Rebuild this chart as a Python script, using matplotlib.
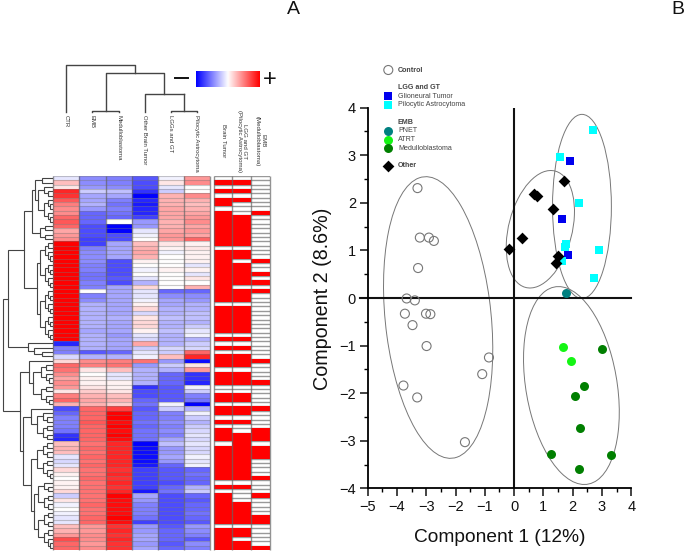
import numpy as np
import matplotlib as mpl
mpl.use('Agg')
import matplotlib.pyplot as plt
from matplotlib.colors import LinearSegmentedColormap
from matplotlib.patches import Ellipse

plt.rcParams['font.family'] = ['Liberation Sans', 'DejaVu Sans']

W, H = 685, 555

heat_labels = ['CTR', 'EMB', 'Medulloblastoma', 'Other Brain Tumor', 'LGGs and GT', 'Pilocytic Astrocytoma']
ctr = [-.1,.25,.1,.85,.8,.65,.5,.45,.45,.6,
       .65,.6,.35,.4,.45,1,1,1,1,1,
       1,1,1,1,1,1,1,1,1,1,
       1,1,1,1,1,1,1,1,-.85,-.5,
       -.5,-.15,.15,.6,.55,.45,.35,.45,.4,.1,
       .5,.6,.3,-.7,-.6,-.5,-.5,-.5,-.55,-.8,
       -.85,.25,.3,.25,-.1,-.15,-.1,.15,.05,0,
       .05,.05,.15,-.2,.1,-.05,0,-.05,-.1,-.1,
       .25,.3,.4,.7,.6,.6]
emb = [-.45,-.45,-.4,-.2,-.35,-.35,-.3,-.4,-.6,-.6,
       -.6,-.7,-.7,-.7,-.75,-.75,-.5,-.45,-.45,-.45,
       -.5,-.5,-.55,-.55,-.5,-.5,0,-.5,-.45,-.3,
       -.3,-.3,-.3,-.3,-.3,-.35,-.3,-.3,-.3,-.3,
       -.65,-.3,.45,.5,.1,0,.05,.05,.1,.2,
       .3,.35,.3,.6,.6,.6,.65,.6,.6,.6,
       .6,.55,.6,.55,.6,.55,.6,.55,.55,.6,
       .55,.55,.55,.55,.55,.6,.55,.55,.6,.6,
       .4,.4,.45,.45,.4,.45]
med = [-.5,-.5,-.45,-.25,-.35,-.5,-.55,-.5,-.55,-.6,
       0,-1,-1,-.7,-.7,-.35,-.35,-.35,-.35,-.7,
       -.7,-.7,-.7,-.65,-.7,-.35,-.35,-.35,-.35,-.35,
       -.35,-.35,-.3,-.35,-.35,-.35,-.4,-.35,-.35,-.35,
       -.6,-.3,.5,.55,.25,-.1,-.1,.05,.05,.1,
       .25,.3,.2,.75,1,1,.95,1,.95,1,
       .95,.85,.85,.85,.85,.85,.85,.8,.85,.8,
       .85,.8,.85,1,.95,.95,.95,.95,1,.95,
       .8,.85,.8,.85,.8,.8]
oth = [-.65,-.7,-.7,-.8,-1,-.85,-.9,-.85,-.85,-.75,
       -.4,-.4,-.1,-.05,0,.25,.3,.35,.3,.05,
       0,-.05,0,-.1,-.3,.15,-.1,-.1,-.05,.05,
       .15,-.15,.1,.15,.15,.05,-.1,-.15,.35,-.2,
       -.1,-.05,.55,-.4,-.3,-.3,-.3,-.3,-.8,-.7,
       -.7,-.6,-.55,-.65,-.6,-.6,-.55,-.6,-.55,-.55,
       -.55,-1,-.95,-.95,-.95,-.95,-.9,-.75,-.75,-.75,
       -.75,-.75,-.9,-.35,-.4,-.5,-.5,-.5,-.55,-.75,
       -.4,-.4,-.35,-.35,-.4,-.35]
lgg = [-.05,.1,-.1,-.2,.3,.3,.3,.35,.35,.35,
       .3,.3,.35,.4,.4,.1,.05,-.05,0,0,
       0,.05,0,0,0,0,-.6,-.45,-.35,-.35,
       -.3,-.3,-.25,-.3,-.3,-.25,-.3,-.3,-.3,-.15,
       -.2,.25,-.4,-.2,-.3,-.6,-.6,-.6,-.65,-.65,
       -.65,-.65,-.05,-.2,-.5,-.5,-.45,-.5,-.45,-.5,
       -.35,-.25,-.4,-.4,-.35,-.4,-.6,-.65,-.65,-.65,
       -.7,-.6,-.55,-.7,-.7,-.7,-.7,-.7,-.7,-.7,
       -.65,-.6,-.6,-.6,-.65,-.6]
pil = [.4,.45,0,0,.45,.3,.25,.3,.35,.4,
       .45,.35,.4,.35,.6,.05,.1,.05,.05,.05,
       -.1,.05,-.1,.1,0,.3,-.6,-.45,-.4,-.3,
       -.3,-.25,-.25,-.3,-.2,-.1,-.05,-.3,-.2,-.15,
       .6,.85,-.95,.1,.4,-.8,-.8,-.85,-.05,-.2,
       -.5,-.55,-1,-.3,-.05,-.2,-.3,-.2,-.15,-.1,
       -.15,-.1,-.15,-.15,-.05,-.1,-.05,-.6,-.55,-.6,
       -.6,-.3,-.2,-.6,-.65,-.6,-.6,-.55,-.6,-.65,
       -.4,-.45,-.5,-.65,-.45,-.5]

binary_labels = ['Brain Tumor', 'LGG and GT\n(Pilocytic Astrocytoma)', 'EMB\n(Medulloblastoma)']
binary_rows = ('000 110 000 110 000 110 100 000 101 110 '
               '110 110 110 110 110 110 000 110 110 101 '
               '110 110 111 110 111 100 111 110 110 000 '
               '110 110 110 110 110 110 000 110 000 110 '
               '000 110 111 110 000 110 110 111 000 000 '
               '110 110 000 111 110 000 110 000 101 111 '
               '111 010 111 111 111 110 110 110 110 111 '
               '000 110 000 101 100 110 110 110 111 111 '
               '000 110 110 100 110 111').split()

# row dendrogram: (x of the join in pixels, child, child), int = that many rows
row_tree = (3,
            (8,
             (24,
              (32, (35, 2, (38, 3, 6)), 4),
              (37, (40, 11), (40, 12))),
             (28, 1, (34, 1, 2))),
            (20,
             (29, 1, (33, 5, 5)),
             (23, (31, 1, (37, 7)),
              (31, (37, 9), (34, (38, 7), (38, 9))))))

# column dendrogram heights
col_merge_emb = 0
col_merge_lgg = 18
col_merge_other = 18
col_merge_tumor = 39
col_merge_root = 47

ctrl_x = [-3.30,-3.22,-2.91,-2.74,-3.28,-3.67,-3.39,-3.73,-3.01,-2.86,-3.47,-2.99,-.86,-1.09,-3.78,-3.31,-1.68]
ctrl_y = [2.31,1.27,1.27,1.20,.63,-.01,-.05,-.33,-.33,-.34,-.57,-1.01,-1.25,-1.60,-1.84,-2.09,-3.03]
glio_x = [1.89,1.65,1.85]
glio_y = [2.89,1.67,.91]
pilo_x = [2.68,1.57,2.21,1.76,1.72,2.91,1.65,2.73]
pilo_y = [3.54,2.97,2.00,1.13,1.08,1.00,.78,.41]
other_x = [1.70,.68,.77,1.34,.27,-.16,1.51,1.44]
other_y = [2.46,2.19,2.14,1.88,1.27,1.03,.88,.73]
pnet_x = [1.77]
pnet_y = [.10]
atrt_x = [1.67,1.93]
atrt_y = [-1.03,-1.33]
medu_x = [2.99,2.37,2.08,2.26,1.26,3.29,2.23]
medu_y = [-1.07,-1.86,-2.07,-2.74,-3.27,-3.31,-3.59]

# ellipses: centre x, centre y, half width, half height, x offset of the top point
ellipses = [(-2.595, -.41, 1.865, 2.96, -.415),
            (.895, 1.445, 1.165, 1.235, .355),
            (2.315, 1.925, 1.005, 1.935, .0),
            (1.955, -1.84, 1.635, 2.08, -.44)]


def px_axes(fig, left, top, right, bottom):
    return fig.add_axes([left / W, 1 - bottom / H, (right - left) / W, (bottom - top) / H])


def draw_tree(ax, node, row, parent_x):
    # returns centre y of the node, its x and the next free row
    if isinstance(node, int):
        if node == 1:
            return row + .5, 53, row + 1
        node = (parent_x + (53 - parent_x) * .4, node // 2, node - node // 2)
    if len(node) == 2:
        node = (node[0], node[1] // 2, node[1] - node[1] // 2)
    x, left, right = node
    y1, x1, row = draw_tree(ax, left, row, x)
    y2, x2, row = draw_tree(ax, right, row, x)
    ax.plot([x1, x, x, x2], [y1, y1, y2, y2], color='#444444', lw=.8, solid_joinstyle='miter')
    return (y1 + y2) / 2, x, row


fig = plt.figure(figsize=(W / 100, H / 100), dpi=100)

overlay = fig.add_axes([0, 0, 1, 1], zorder=5)
overlay.set_xlim(0, W)
overlay.set_ylim(H, 0)
overlay.axis('off')
overlay.patch.set_alpha(0)

cmap = LinearSegmentedColormap.from_list('bwr2', ['#0000ff', '#ffffff', '#ff0000'])

# heatmap
heat = np.array([ctr, emb, med, oth, lgg, pil]).T
ax_heat = px_axes(fig, 53.3, 176, 210, 550)
ax_heat.pcolormesh(heat, cmap=cmap, vmin=-1, vmax=1)
ax_heat.set_ylim(heat.shape[0], 0)
ax_heat.hlines(np.arange(heat.shape[0] + 1), 0, 6, color='#777777', lw=.8, alpha=.4)
ax_heat.vlines(np.arange(7), 0, heat.shape[0], color='#666666', lw=1, alpha=.7, clip_on=False)
ax_heat.axis('off')

# binary panel, the grey row lines only show on the white cells
binary = np.array([[int(c) for c in r] for r in binary_rows])
ax_bin = px_axes(fig, 213.7, 176, 270, 550)
ax_bin.hlines(np.arange(binary.shape[0] + 1), 0, 3, color='#999999', lw=1, zorder=1)
ax_bin.pcolormesh(np.ma.masked_equal(binary, 0), cmap=cmap, vmin=-1, vmax=1, zorder=2)
ax_bin.set_xlim(0, 3)
ax_bin.set_ylim(binary.shape[0], 0)
ax_bin.vlines(np.arange(4), 0, binary.shape[0], color='#666666', lw=1, alpha=.7, zorder=3, clip_on=False)
ax_bin.axis('off')

# row dendrogram
ax_rows = px_axes(fig, 0, 176, 53.3, 550)
ax_rows.set_xlim(0, 53.3)
ax_rows.set_ylim(heat.shape[0], 0)
ax_rows.axis('off')
draw_tree(ax_rows, row_tree, 0, 3)

# column dendrogram
ax_cols = px_axes(fig, 53.3, 64, 210, 112)
ax_cols.set_xlim(0, 6)
ax_cols.set_ylim(0, 48)
ax_cols.axis('off')
emb_mid = 2
lgg_mid = 5
other_mid = (3.5 + lgg_mid) / 2
tumor_mid = (emb_mid + other_mid) / 2
for xs, ys in [([1.5, 1.5, 2.5, 2.5], [col_merge_emb, 1, 1, col_merge_emb]),
               ([4.5, 4.5, 5.5, 5.5], [col_merge_emb, 1, 1, col_merge_emb]),
               ([lgg_mid, lgg_mid], [1, col_merge_lgg]),
               ([3.5, 3.5, lgg_mid, lgg_mid], [0, col_merge_other, col_merge_other, col_merge_lgg]),
               ([emb_mid, emb_mid, other_mid, other_mid],
                [1, col_merge_tumor, col_merge_tumor, col_merge_other]),
               ([.5, .5, tumor_mid, tumor_mid], [0, col_merge_root, col_merge_root, col_merge_tumor])]:
    ax_cols.plot(xs, ys, color='#444444', lw=1, clip_on=False)

for i, lab in enumerate(heat_labels):
    overlay.text(53.3 + (i + .5) * 26.1, 115, lab, rotation=-90, ha='center', va='top',
                 fontsize=4.3, color='#333333')
for cx, lab in zip([224, 242, 260.5], binary_labels):
    overlay.text(cx, 141, lab, rotation=-90, ha='center', va='center', fontsize=4.4,
                 color='#333333', multialignment='center')

# colour key
ax_key = px_axes(fig, 195.7, 71, 258.7, 87)
ax_key.imshow(np.linspace(-1, 1, 128)[None, :], cmap=cmap, aspect='auto')
ax_key.axis('off')
overlay.plot([175, 187.7], [78, 78], color='#111111', lw=1.4)
overlay.text(270, 80, '+', fontsize=17, ha='center', va='center', color='#111111')

overlay.text(293, 10, 'A', fontsize=14, ha='center', va='center', color='#111111')
overlay.text(678, 10, 'B', fontsize=14, ha='center', va='center', color='#111111')

# scatter
ax = px_axes(fig, 367.7, 107.7, 631.3, 488.3)
ax.set_xlim(-5, 4)
ax.set_ylim(-4, 4)
for cx, cy, hw, hh, off in ellipses:
    cov = np.array([[hw ** 2, off * hh], [off * hh, hh ** 2]])
    vals, vecs = np.linalg.eigh(cov)
    angle = np.degrees(np.arctan2(vecs[1, 1], vecs[0, 1]))
    ax.add_patch(Ellipse((cx, cy), 2 * np.sqrt(vals[1]), 2 * np.sqrt(vals[0]), angle=angle,
                         fill=False, ec='#777777', lw=.7, clip_on=False))
ax.plot([-5.25, 4], [0, 0], color='#111111', lw=1.5, clip_on=False, zorder=2)
ax.axvline(0, color='#111111', lw=1.5, zorder=2)
ax.scatter(ctrl_x, ctrl_y, s=42, facecolor='none', edgecolor='#777777', lw=.8, zorder=3)
ax.scatter(glio_x, glio_y, s=30, marker='s', color='#0000ee', lw=0, zorder=3)
ax.scatter(pilo_x, pilo_y, s=30, marker='s', color='#00ffff', lw=0, zorder=3)
ax.scatter(pnet_x, pnet_y, s=42, color='#008080', lw=0, zorder=3)
ax.scatter(atrt_x, atrt_y, s=42, color='#14f514', lw=0, zorder=3)
ax.scatter(medu_x, medu_y, s=42, color='#007f00', lw=0, zorder=3)
ax.scatter(other_x, other_y, s=36, marker='D', color='black', lw=0, zorder=4)

ax.spines[['top', 'right']].set_visible(False)
ax.spines[['left', 'bottom']].set_linewidth(1.3)
ax.set_xticks(np.arange(-5, 5))
ax.set_yticks(np.arange(-4, 5))
ax.set_xticks(np.arange(-5, 4.5, .5), minor=True)
ax.set_yticks(np.arange(-4, 4.5, .5), minor=True)
ax.tick_params(which='major', length=5.5, width=1.1, labelsize=10.5, pad=3, colors='#111111')
ax.tick_params(which='minor', length=3, width=1)
ax.set_facecolor('none')
overlay.text(500, 537, 'Component 1 (12%)', fontsize=13.8, ha='center', va='center', color='#111111')
overlay.text(323, 299, 'Component 2 (8.6%)', fontsize=14.2, rotation=90, ha='center', va='center', color='#111111')

# legend written by hand, the groups have their own headings
overlay.scatter([388.3], [70], s=42, facecolor='none', edgecolor='#777777', lw=.8)
overlay.scatter([388.3], [96.3], s=30, marker='s', color='#0000ee', lw=0)
overlay.scatter([388.3], [105], s=30, marker='s', color='#00ffff', lw=0)
overlay.scatter([388.3], [131], s=42, color='#008080', lw=0)
overlay.scatter([388.3], [139.7], s=42, color='#14f514', lw=0)
overlay.scatter([388.3], [148.3], s=42, color='#007f00', lw=0)
overlay.scatter([388.3], [165.7], s=36, marker='D', color='black', lw=0)
overlay.set_xlim(0, W)
overlay.set_ylim(H, 0)
for y, lab, bold in [(70, 'Control', True), (87.3, 'LGG and GT', True), (96.3, 'Glioneural Tumor', False),
                     (105, 'Pilocytic Astrocytoma', False), (122.3, 'EMB', True), (131, 'PNET', False),
                     (139.7, 'ATRT', False), (148.3, 'Medulloblastoma', False), (165.7, 'Other', True)]:
    overlay.text(398, y, lab, fontsize=5.1, va='center', color='#444444',
                 fontweight='bold' if bold else 'normal')

fig.savefig('out.png', dpi=100)
